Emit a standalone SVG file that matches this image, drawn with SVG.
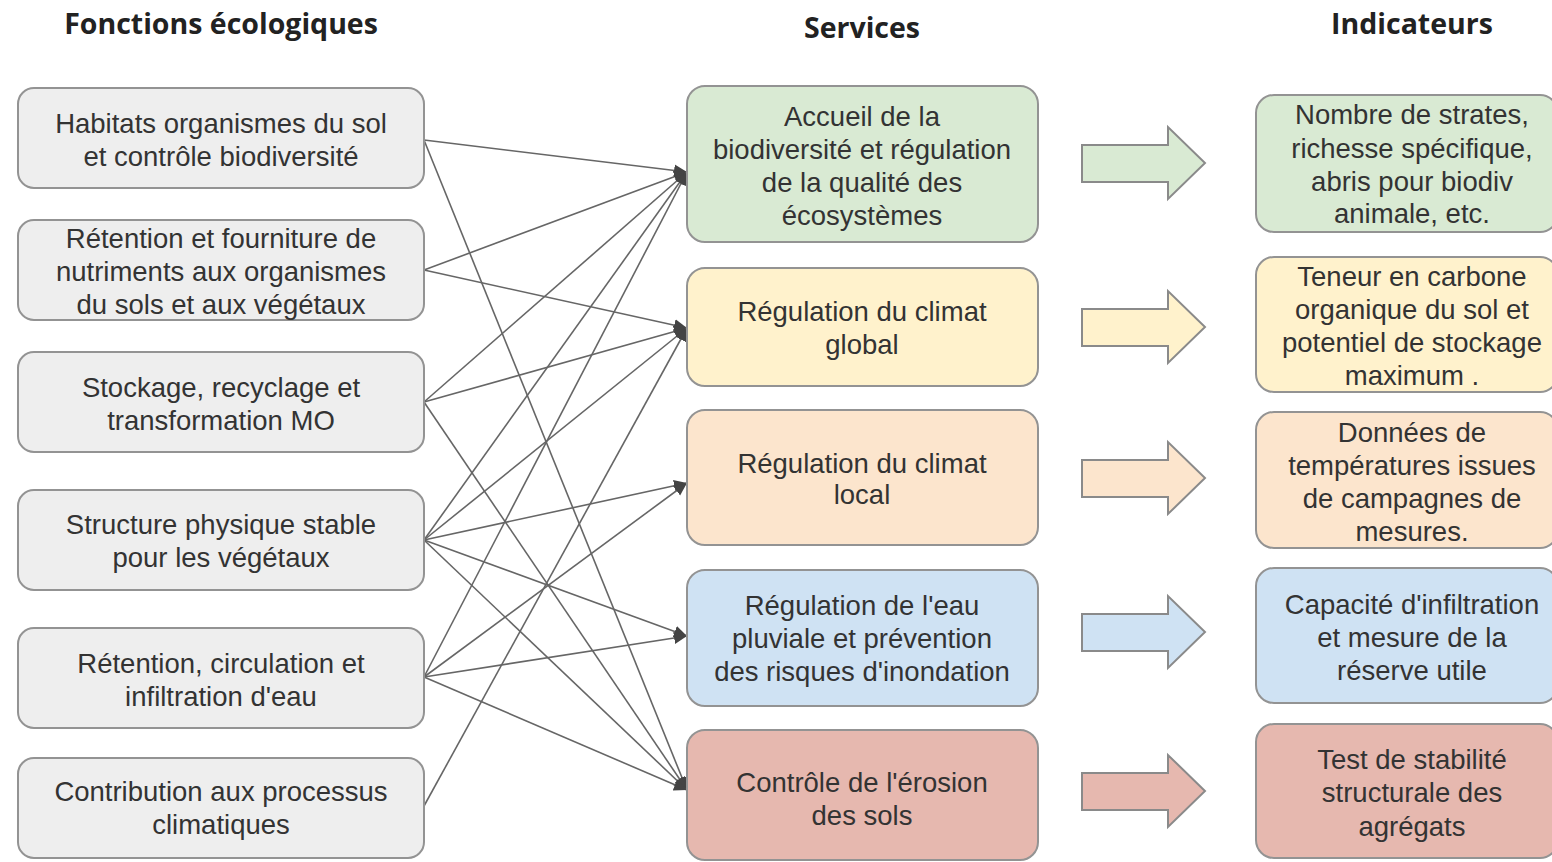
<svg xmlns="http://www.w3.org/2000/svg" width="1552" height="862" viewBox="0 0 1552 862">
<style>
.title{font-family:"Open Sans","Liberation Sans",sans-serif;font-weight:700;font-size:28.5px;fill:#222;text-anchor:middle}
.t{font-family:"Liberation Sans",Arial,sans-serif;font-size:27.5px;fill:#333;text-anchor:middle}
.box{stroke:#939393;stroke-width:2}
.f{fill:#eeeeee}
.g{fill:#d9ead3}
.y{fill:#fff2cc}
.o{fill:#fce5cd}
.b{fill:#cfe2f3}
.r{fill:#e6b8af}
.arr{stroke:#8a8a8a;stroke-width:2}
.c line{stroke:#666;stroke-width:1.6;marker-end:url(#ah)}
</style>
<defs>
<marker id="ah" markerUnits="userSpaceOnUse" markerWidth="16" markerHeight="16" refX="13" refY="7" orient="auto">
<path d="M0,1 L13,7 L0,13 z" fill="#444"/>
</marker>
</defs>
<rect width="1552" height="862" fill="#ffffff"/>
<text class="title" x="221" y="34">Fonctions écologiques</text>
<text class="title" x="862" y="38">Services</text>
<text class="title" x="1412" y="34">Indicateurs</text>

<g id="connectors" class="c">
<line x1="424" y1="140" x2="687" y2="172"/>
<line x1="424" y1="140" x2="687" y2="790"/>
<line x1="424" y1="270" x2="687" y2="172"/>
<line x1="424" y1="270" x2="687" y2="328"/>
<line x1="424" y1="402" x2="687" y2="172"/>
<line x1="424" y1="402" x2="687" y2="328"/>
<line x1="424" y1="402" x2="687" y2="790"/>
<line x1="424" y1="540" x2="687" y2="172"/>
<line x1="424" y1="540" x2="687" y2="328"/>
<line x1="424" y1="540" x2="687" y2="483"/>
<line x1="424" y1="540" x2="687" y2="636"/>
<line x1="424" y1="540" x2="687" y2="790"/>
<line x1="424" y1="677" x2="687" y2="172"/>
<line x1="424" y1="677" x2="687" y2="483"/>
<line x1="424" y1="677" x2="687" y2="636"/>
<line x1="424" y1="677" x2="687" y2="790"/>
<line x1="424" y1="806" x2="687" y2="328"/>
</g>

<g id="f1"><rect class="box f" x="18" y="88" width="406" height="100" rx="16"/>
<text class="t" x="221" y="133">Habitats organismes du sol</text>
<text class="t" x="221" y="166">et contrôle biodiversité</text></g>
<g id="f2"><rect class="box f" x="18" y="220" width="406" height="100" rx="16"/>
<text class="t" x="221" y="248">Rétention et fourniture de</text>
<text class="t" x="221" y="281">nutriments aux organismes</text>
<text class="t" x="221" y="314">du sols et aux végétaux</text></g>
<g id="f3"><rect class="box f" x="18" y="352" width="406" height="100" rx="16"/>
<text class="t" x="221" y="397">Stockage, recyclage et</text>
<text class="t" x="221" y="430">transformation MO</text></g>
<g id="f4"><rect class="box f" x="18" y="490" width="406" height="100" rx="16"/>
<text class="t" x="221" y="534">Structure physique stable</text>
<text class="t" x="221" y="567">pour les végétaux</text></g>
<g id="f5"><rect class="box f" x="18" y="628" width="406" height="100" rx="16"/>
<text class="t" x="221" y="673">Rétention, circulation et</text>
<text class="t" x="221" y="706">infiltration d'eau</text></g>
<g id="f6"><rect class="box f" x="18" y="758" width="406" height="100" rx="16"/>
<text class="t" x="221" y="801">Contribution aux processus</text>
<text class="t" x="221" y="834">climatiques</text></g>

<g id="s1"><rect class="box g" x="687" y="86" width="351" height="156" rx="18"/>
<text class="t" x="862" y="126">Accueil de la</text>
<text class="t" x="862" y="159">biodiversité et régulation</text>
<text class="t" x="862" y="192">de la qualité des</text>
<text class="t" x="862" y="225">écosystèmes</text></g>
<g id="s2"><rect class="box y" x="687" y="268" width="351" height="118" rx="18"/>
<text class="t" x="862" y="321">Régulation du climat</text>
<text class="t" x="862" y="354">global</text></g>
<g id="s3"><rect class="box o" x="687" y="410" width="351" height="135" rx="18"/>
<text class="t" x="862" y="473">Régulation du climat</text>
<text class="t" x="862" y="504">local</text></g>
<g id="s4"><rect class="box b" x="687" y="570" width="351" height="136" rx="18"/>
<text class="t" x="862" y="615">Régulation de l'eau</text>
<text class="t" x="862" y="648">pluviale et prévention</text>
<text class="t" x="862" y="681">des risques d'inondation</text></g>
<g id="s5"><rect class="box r" x="687" y="730" width="351" height="130" rx="18"/>
<text class="t" x="862" y="792">Contrôle de l'érosion</text>
<text class="t" x="862" y="825">des sols</text></g>

<g id="a1"><path class="arr g" d="M1082,145 H1168 V127 L1205,163 L1168,199 V182 H1082 Z"/></g>
<g id="a2"><path class="arr y" d="M1082,309 H1168 V291 L1205,327 L1168,363 V346 H1082 Z"/></g>
<g id="a3"><path class="arr o" d="M1082,460 H1168 V442 L1205,478 L1168,514 V497 H1082 Z"/></g>
<g id="a4"><path class="arr b" d="M1082,614 H1168 V596 L1205,632 L1168,668 V651 H1082 Z"/></g>
<g id="a5"><path class="arr r" d="M1082,773 H1168 V755 L1205,791 L1168,827 V810 H1082 Z"/></g>

<g id="i1"><rect class="box g" x="1256" y="95" width="302" height="137" rx="18"/>
<text class="t" x="1412" y="124">Nombre de strates,</text>
<text class="t" x="1412" y="158">richesse spécifique,</text>
<text class="t" x="1412" y="191">abris pour biodiv</text>
<text class="t" x="1412" y="223">animale, etc.</text></g>
<g id="i2"><rect class="box y" x="1256" y="257" width="302" height="135" rx="18"/>
<text class="t" x="1412" y="286">Teneur en carbone</text>
<text class="t" x="1412" y="319">organique du sol et</text>
<text class="t" x="1412" y="352">potentiel de stockage</text>
<text class="t" x="1412" y="385">maximum .</text></g>
<g id="i3"><rect class="box o" x="1256" y="412" width="302" height="136" rx="18"/>
<text class="t" x="1412" y="442">Données de</text>
<text class="t" x="1412" y="475">températures issues</text>
<text class="t" x="1412" y="508">de campagnes de</text>
<text class="t" x="1412" y="541">mesures.</text></g>
<g id="i4"><rect class="box b" x="1256" y="568" width="302" height="135" rx="18"/>
<text class="t" x="1412" y="614">Capacité d'infiltration</text>
<text class="t" x="1412" y="647">et mesure de la</text>
<text class="t" x="1412" y="680">réserve utile</text></g>
<g id="i5"><rect class="box r" x="1256" y="724" width="302" height="134" rx="18"/>
<text class="t" x="1412" y="769">Test de stabilité</text>
<text class="t" x="1412" y="802">structurale des</text>
<text class="t" x="1412" y="836">agrégats</text></g>
</svg>
